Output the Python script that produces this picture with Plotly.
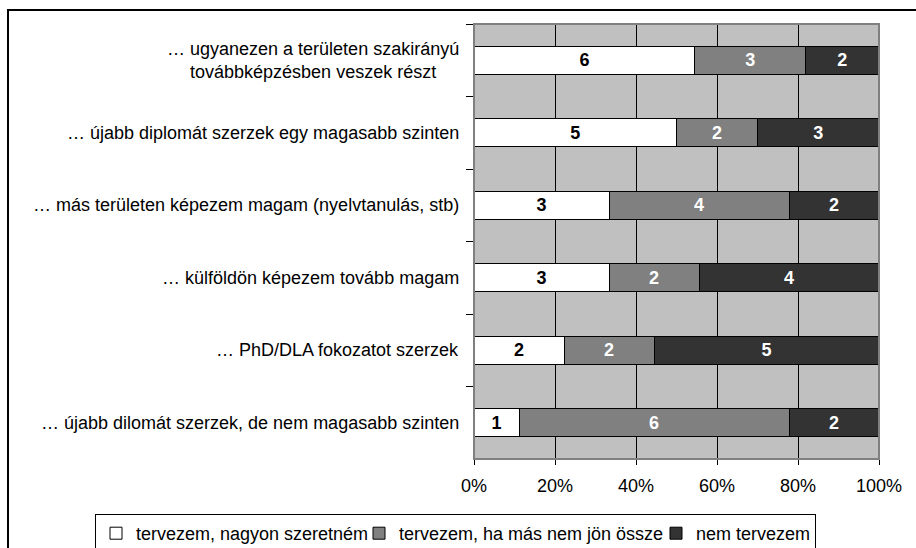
import plotly.graph_objects as go

categories = [
    "… ugyanezen a területen szakirányú<br>továbbképzésben veszek részt",
    "… újabb diplomát szerzek egy magasabb szinten",
    "… más területen képezem magam (nyelvtanulás, stb)",
    "… külföldön képezem tovább magam",
    "… PhD/DLA fokozatot szerzek",
    "… újabb dilomát szerzek, de nem magasabb szinten",
]
series_names = ["tervezem, nagyon szeretném", "tervezem, ha más nem jön össze", "nem tervezem"]
very_much = [6, 5, 3, 3, 2, 1]
if_nothing_else = [3, 2, 4, 2, 2, 6]
not_planned = [2, 3, 2, 4, 5, 2]
tick_vals = [0, 20, 40, 60, 80, 100]
tick_text = ["0%", "20%", "40%", "60%", "80%", "100%"]

FONT = "Liberation Sans, Arial, sans-serif"
FS = 18

fig = go.Figure()
for name, vals, col, tcol, lw in [
    (series_names[0], very_much, "#FFFFFF", "#000000", 218),
    (series_names[1], if_nothing_else, "#808080", "#FFFFFF", 252),
    (series_names[2], not_planned, "#333333", "#FFFFFF", 114),
]:
    fig.add_trace(go.Bar(
        y=categories, x=vals, name=name, orientation="h",
        marker=dict(color=col, line=dict(color="#000000", width=1)),
        text=[str(v) for v in vals], textposition="inside",
        insidetextanchor="middle", textangle=0, constraintext="none",
        textfont=dict(color=tcol, size=FS, family=FONT, weight="bold"),
        width=0.39, legendwidth=lw, hoverinfo="skip",
    ))

annotations = []
for c in categories:
    annotations.append(dict(
        x=-0.032, xref="paper", y=c, yref="y", text=c, showarrow=False,
        xanchor="right", yanchor="middle", align="center",
        font=dict(size=FS, family=FONT, color="#000000"),
    ))

fig.update_layout(
    width=916, height=548,
    margin=dict(l=474, r=37, t=24, b=89, autoexpand=False),
    paper_bgcolor="#FFFFFF", plot_bgcolor="#C0C0C0",
    barmode="stack", barnorm="percent",
    font=dict(family=FONT, size=FS, color="#000000"),
    annotations=annotations,
    legend=dict(
        orientation="h", x=(95 - 474) / 405, xanchor="left", y=(459 - 514) / 435, yanchor="top",
        bordercolor="#000000", borderwidth=1, bgcolor="#FFFFFF",
        font=dict(size=FS, family=FONT, color="#000000"),
        itemwidth=30, tracegroupgap=0, traceorder="normal",
    ),
    xaxis=dict(
        range=[0, 100], tickvals=tick_vals, ticktext=tick_text,
        showgrid=True, gridcolor="#000000", gridwidth=1,
        showline=True, linecolor="#000000", linewidth=1,
        ticks="outside", ticklen=5, tickcolor="#000000", ticklabelstandoff=5,
        zeroline=False, tickfont=dict(size=FS, family=FONT),
    ),
    yaxis=dict(
        categoryorder="array", categoryarray=categories, autorange="reversed",
        showticklabels=False, tickson="boundaries",
        showline=True, linecolor="#000000", linewidth=1,
        ticks="outside", ticklen=7, tickcolor="#000000",
        showgrid=False, zeroline=False,
    ),
    shapes=[
        dict(type="rect", xref="paper", yref="paper", x0=0, x1=1, y0=0, y1=1,
             line=dict(color="#808080", width=2), layer="above"),
        dict(type="rect", xref="paper", yref="paper", x0=(8 - 474) / 405, x1=1.2,
             y0=-0.25, y1=(459 - 10) / 435,
             line=dict(color="#000000", width=2), layer="above"),
    ],
)
fig.write_html(
    "out.html",
    config={"displayModeBar": False},
    post_script="document.body.style.margin='0';document.body.style.overflow='hidden';",
)
